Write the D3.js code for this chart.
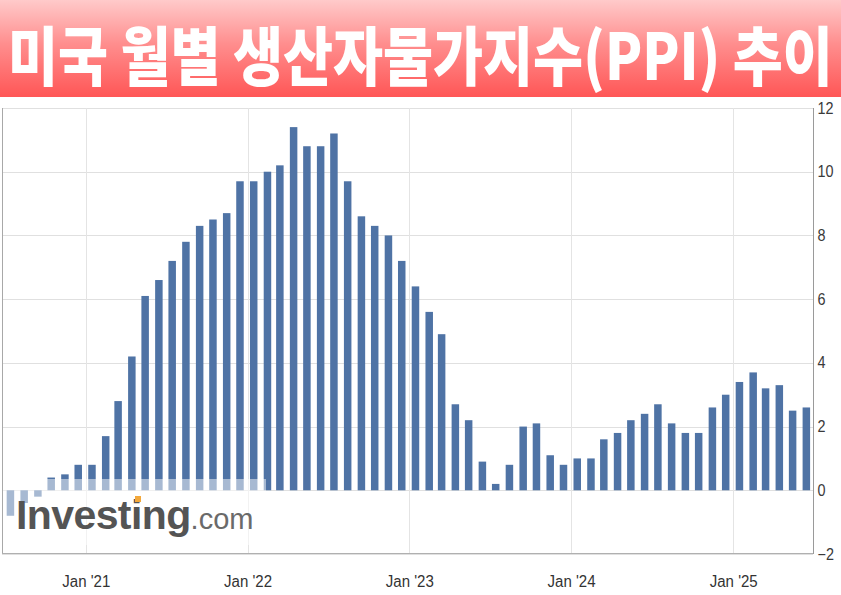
<!DOCTYPE html>
<html>
<head>
<meta charset="utf-8">
<script src="https://cdn.jsdelivr.net/npm/d3@7"></script>
<style>
  html, body { margin: 0; padding: 0; background: #fff; }
  svg { display: block; }
</style>
</head>
<body>
<svg id="chart" width="841" height="595"></svg>
<script>
// ---- data (US PPI YoY %, by reference month; plotted at release date) ----
const months = [
  "2020-06","2020-07","2020-08","2020-09","2020-10","2020-11","2020-12",
  "2021-01","2021-02","2021-03","2021-04","2021-05","2021-06","2021-07","2021-08","2021-09","2021-10","2021-11","2021-12",
  "2022-01","2022-02","2022-03","2022-04","2022-05","2022-06","2022-07","2022-08","2022-09","2022-10","2022-11","2022-12",
  "2023-01","2023-02","2023-03","2023-04","2023-05","2023-06","2023-07","2023-08","2023-09","2023-10","2023-11","2023-12",
  "2024-01","2024-02","2024-03","2024-04","2024-05","2024-06","2024-07","2024-08","2024-09","2024-10","2024-11","2024-12",
  "2025-01","2025-02","2025-03","2025-04","2025-05"
];
const values = [
  -0.8, -0.4, -0.2, 0.4, 0.5, 0.8, 0.8,
  1.7, 2.8, 4.2, 6.1, 6.6, 7.2, 7.8, 8.3, 8.5, 8.7, 9.7, 9.7,
  10.0, 10.2, 11.4, 10.8, 10.8, 11.2, 9.7, 8.6, 8.3, 8.0, 7.2, 6.4,
  5.6, 4.9, 2.7, 2.2, 0.9, 0.2, 0.8, 2.0, 2.1, 1.1, 0.8, 1.0,
  1.0, 1.6, 1.8, 2.2, 2.4, 2.7, 2.1, 1.8, 1.8, 2.6, 3.0, 3.4,
  3.7, 3.2, 3.3, 2.5, 2.6
];
const xTickDates = ["2021-01-01","2022-01-01","2023-01-01","2024-01-01","2025-01-01"];
const xTickLabels = ["Jan '21","Jan '22","Jan '23","Jan '24","Jan '25"];
const yTicks = [-2, 0, 2, 4, 6, 8, 10, 12];
const titleText = "미국 월별 생산자물가지수(PPI) 추이";

// ---- layout ----
const svg = d3.select("#chart");
const W = 841, H = 595;
const plot = { left: 2, right: 813, top: 108, bottom: 554 };
const parse = d3.timeParse("%Y-%m-%d");

const x = d3.scaleTime()
  .domain([parse("2020-06-26"), parse("2025-06-30")])
  .range([plot.left, plot.right]);
const y = d3.scaleLinear().domain([-2, 12]).range([plot.bottom, plot.top]);

// release date = 15th of following month
const relDate = m => {
  const [yy, mm] = m.split("-").map(Number);
  return new Date(yy, mm, 15);
};
const barW = 7.5;

// ---- title banner ----
const defs = svg.append("defs");
const grad = defs.append("linearGradient").attr("id", "bannerGrad")
  .attr("x1", 0).attr("y1", 0).attr("x2", 0).attr("y2", 1);
grad.append("stop").attr("offset", "0%").attr("stop-color", "#ffcaca");
grad.append("stop").attr("offset", "45%").attr("stop-color", "#ff8e8e");
grad.append("stop").attr("offset", "100%").attr("stop-color", "#ff5656");

svg.append("rect").attr("x", 0).attr("y", 0).attr("width", W).attr("height", 97)
  .attr("fill", "url(#bannerGrad)");

const titleG = svg.append("g");
const title = titleG.append("text")
  .attr("x", 0).attr("y", 0)
  .attr("font-family", "'Noto Sans CJK KR', 'Noto Sans', sans-serif")
  .attr("font-weight", 900)
  .attr("font-size", 64)
  .attr("fill", "#ffffff")
  .text(titleText);
const tw = title.node().getComputedTextLength();
const sx = 825 / tw;
titleG.attr("transform", `translate(8,80) scale(${sx},1)`);

// ---- grid ----
const g = svg.append("g");
g.selectAll("line.hgrid").data(yTicks).join("line")
  .attr("class", "hgrid")
  .attr("x1", plot.left).attr("x2", plot.right)
  .attr("y1", d => Math.round(y(d)) + 0.5).attr("y2", d => Math.round(y(d)) + 0.5)
  .attr("stroke", "#e0e0e0").attr("stroke-width", 1);

g.selectAll("line.vgrid").data(xTickDates).join("line")
  .attr("class", "vgrid")
  .attr("x1", d => Math.round(x(parse(d))) + 0.5).attr("x2", d => Math.round(x(parse(d))) + 0.5)
  .attr("y1", plot.top).attr("y2", plot.bottom)
  .attr("stroke", "#e4e4e4").attr("stroke-width", 1);

// ---- bars ----
g.selectAll("rect.bar").data(values).join("rect")
  .attr("class", "bar")
  .attr("x", (d, i) => x(relDate(months[i])) - barW / 2)
  .attr("width", barW)
  .attr("y", d => y(Math.max(0, d)))
  .attr("height", d => Math.abs(y(d) - y(0)))
  .attr("fill", "#4f73a5");

// frame
g.append("line").attr("x1", plot.left + 0.5).attr("x2", plot.left + 0.5)
  .attr("y1", plot.top).attr("y2", plot.bottom).attr("stroke", "#a8a8a8");
g.append("line").attr("x1", plot.left).attr("x2", plot.right)
  .attr("y1", plot.bottom - 0.5).attr("y2", plot.bottom - 0.5).attr("stroke", "#b0b0b0");

// ---- watermark ----
svg.append("rect").attr("x", 3).attr("y", 479).attr("width", 263).attr("height", 66)
  .attr("fill", "#ffffff").attr("opacity", 0.5);
const wm = svg.append("text").attr("x", 16).attr("y", 529)
  .attr("font-family", "'Liberation Sans', Arial, sans-serif");
wm.append("tspan").attr("font-weight", "bold").attr("font-size", 41)
  .attr("fill", "#545454").attr("letter-spacing", -0.6).text("Investing");
wm.append("tspan").attr("font-size", 29).attr("fill", "#6a6a6a").text(".com");
svg.append("rect").attr("x", 135).attr("y", 496).attr("width", 6).attr("height", 6)
  .attr("fill", "#f3a83b");

// ---- axes ----
const yAxis = d3.axisRight(y).tickValues(yTicks).tickSize(0).tickPadding(4);
const ya = svg.append("g").attr("transform", `translate(${plot.right},0)`).call(yAxis);
ya.select(".domain").attr("stroke", "#9a9a9a").attr("d", `M0.5,${plot.top}V${plot.bottom}`);
ya.selectAll("text")
  .attr("font-family", "'Liberation Sans', Arial, sans-serif")
  .attr("font-size", 16).attr("fill", "#3a3a3a")
  .attr("transform", "scale(0.9,1)").attr("x", 4.5 / 0.9);

const xAxis = d3.axisBottom(x).tickValues(xTickDates.map(parse))
  .tickFormat((d, i) => xTickLabels[i]).tickSize(0).tickPadding(0);
const xa = svg.append("g").attr("transform", `translate(0,587)`).call(xAxis);
xa.select(".domain").remove();
xa.selectAll("text")
  .attr("font-family", "'Liberation Sans', Arial, sans-serif")
  .attr("font-size", 16).attr("fill", "#333").attr("dy", 0)
  .attr("textLength", 48).attr("lengthAdjust", "spacingAndGlyphs");
</script>
</body>
</html>
